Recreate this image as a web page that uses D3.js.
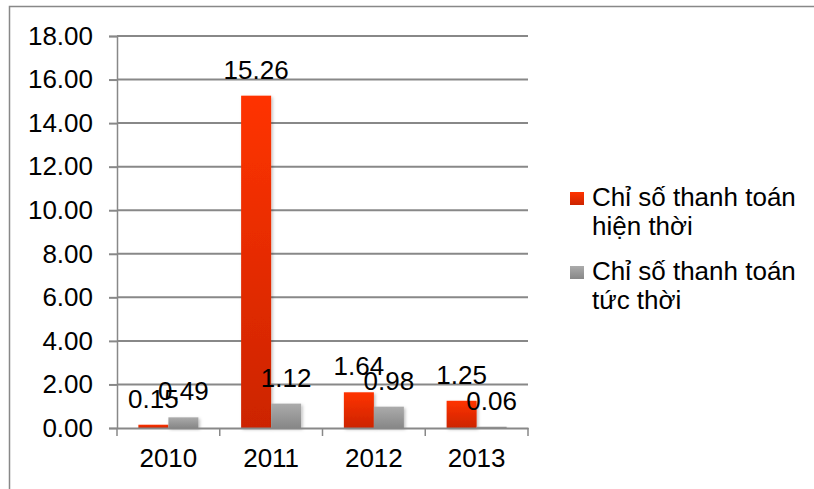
<!doctype html>
<html>
<head>
<meta charset="utf-8">
<style>
    body { margin: 0; background: #fff; }
    text { font-family: "Liberation Sans", Arial, sans-serif; fill: #000; }
</style>
<script src="https://d3js.org/d3.v7.min.js"></script>
</head>
<body>
<svg id="svg" width="814" height="489"></svg>
<script>
var years = ["2010", "2011", "2012", "2013"];
var seriesNames = ["Chỉ số thanh toán hiện thời", "Chỉ số thanh toán tức thời"];
var hienThoi = [0.15, 15.26, 1.64, 1.25];
var tucThoi = [0.49, 1.12, 0.98, 0.06];
var yTicks = [0, 2, 4, 6, 8, 10, 12, 14, 16, 18];
var legendLines = [["Chỉ số thanh toán", "hiện thời"], ["Chỉ số thanh toán", "tức thời"]];

var svg = d3.select("#svg");

var defs = svg.append("defs");
var gRed = defs.append("linearGradient").attr("id", "gRed").attr("x1", 0).attr("y1", 0).attr("x2", 0).attr("y2", 1);
gRed.append("stop").attr("offset", "0%").attr("stop-color", "#ff3300");
gRed.append("stop").attr("offset", "100%").attr("stop-color", "#cc2400");
var gGray = defs.append("linearGradient").attr("id", "gGray").attr("x1", 0).attr("y1", 0).attr("x2", 0).attr("y2", 1);
gGray.append("stop").attr("offset", "0%").attr("stop-color", "#ababab");
gGray.append("stop").attr("offset", "100%").attr("stop-color", "#878787");
var sh = defs.append("filter").attr("id", "sh").attr("x", "-20%").attr("y", "-20%").attr("width", "150%").attr("height", "150%");
sh.append("feDropShadow").attr("dx", 1.5).attr("dy", 1.5).attr("stdDeviation", 1.5).attr("flood-color", "#000").attr("flood-opacity", 0.25);

var fills = ["url(#gRed)", "url(#gGray)"];

// outer border
svg.append("rect")
    .attr("x", 9.5).attr("y", 6.5)
    .attr("width", 820).attr("height", 500)
    .attr("fill", "none").attr("stroke", "#888").attr("stroke-width", 1.5);

var pLeft = 117, pRight = 528, pTop = 36, pBottom = 428;

var x0 = d3.scaleBand().domain(years).range([pLeft, pRight]);
var bw = x0.bandwidth();
var x1 = d3.scaleBand().domain(seriesNames).range([bw * 0.208, bw * 0.792]);
var y = d3.scaleLinear().domain([0, 18]).range([pBottom, pTop]);

// y axis with gridlines
var yAxis = svg.append("g")
    .attr("transform", "translate(" + pLeft + ",0)")
    .call(d3.axisLeft(y).tickValues(yTicks).tickSize(8).tickPadding(16)
        .tickFormat(function(d) { return d.toFixed(2); }));
yAxis.select(".domain").attr("stroke", "#888").attr("stroke-width", 1.5);
yAxis.selectAll(".tick line").attr("stroke", "#888").attr("stroke-width", 2);
yAxis.selectAll(".tick text").attr("font-size", 26).attr("font-family", "Liberation Sans, Arial, sans-serif").attr("fill", "#000");

svg.append("g").selectAll("line")
    .data(yTicks.filter(function(d) { return d > 0; }))
    .enter().append("line")
    .attr("x1", pLeft).attr("x2", pRight)
    .attr("y1", function(d) { return y(d); })
    .attr("y2", function(d) { return y(d); })
    .attr("stroke", "#888").attr("stroke-width", 2);

// bars
var rows = years.map(function(yr, i) { return [hienThoi[i], tucThoi[i]]; });
var groups = svg.append("g").selectAll("g")
    .data(rows).enter().append("g")
    .attr("transform", function(d, i) { return "translate(" + x0(years[i]) + ",0)"; });

groups.selectAll("rect")
    .data(function(d) { return d; })
    .enter().append("rect")
    .attr("x", function(d, j) { return x1(seriesNames[j]); })
    .attr("y", function(d) { return y(d); })
    .attr("width", x1.bandwidth())
    .attr("height", function(d) { return pBottom - y(d); })
    .attr("fill", function(d, j) { return fills[j]; })
    .attr("filter", "url(#sh)");

// x axis
var xAxis = svg.append("g")
    .attr("transform", "translate(0," + pBottom + ")")
    .call(d3.axisBottom(x0).tickSize(0).tickPadding(21));
xAxis.select(".domain").attr("stroke", "#888").attr("stroke-width", 2);
xAxis.selectAll(".tick text").attr("font-size", 26).attr("font-family", "Liberation Sans, Arial, sans-serif").attr("fill", "#000");
svg.append("g").selectAll("line")
    .data(years.concat(["end"]))
    .enter().append("line")
    .attr("x1", function(d, i) { return i < years.length ? x0(d) : pRight; })
    .attr("x2", function(d, i) { return i < years.length ? x0(d) : pRight; })
    .attr("y1", pBottom).attr("y2", pBottom + 8)
    .attr("stroke", "#888").attr("stroke-width", 1.5);

// value labels
groups.selectAll("text.val")
    .data(function(d) { return d; })
    .enter().append("text")
    .attr("class", "val")
    .attr("x", function(d, j) { return x1(seriesNames[j]) + x1.bandwidth() / 2; })
    .attr("y", function(d) { return y(d) - 17; })
    .attr("text-anchor", "middle")
    .attr("font-size", 26)
    .text(function(d) { return d.toFixed(2); });

// legend
var legend = svg.append("g").selectAll("g")
    .data(legendLines).enter().append("g")
    .attr("transform", function(d, i) { return "translate(570," + (206 + i * 74) + ")"; });
legend.append("rect")
    .attr("x", 0).attr("y", -14).attr("width", 14).attr("height", 13)
    .attr("fill", function(d, i) { return fills[i]; });
legend.append("text")
    .attr("x", 22).attr("font-size", 26)
    .selectAll("tspan").data(function(d) { return d; })
    .enter().append("tspan")
    .attr("x", 22)
    .attr("dy", function(d, i) { return i === 0 ? 0 : 29; })
    .text(function(d) { return d; });
</script>
</body>
</html>
